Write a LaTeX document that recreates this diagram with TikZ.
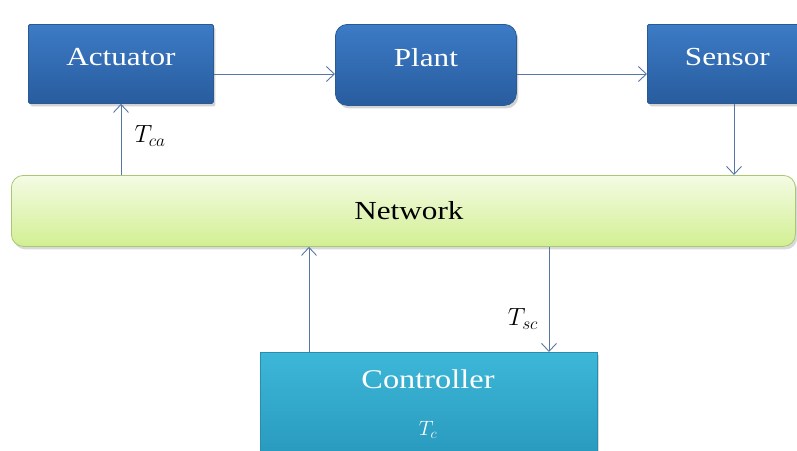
\documentclass[tikz,border=0pt]{standalone}
\usepackage{fontspec}
\setmainfont{Liberation Serif}
\newfontfamily\dfont[FakeStretch=1.2]{Liberation Serif}
\usetikzlibrary{arrows.meta,shadows}
\definecolor{boxtop}{HTML}{3C7BC6}
\definecolor{boxbot}{HTML}{285C9E}
\definecolor{boxline}{HTML}{2A5A92}
\definecolor{ctop}{HTML}{3DB7D8}
\definecolor{cbot}{HTML}{2798BC}
\definecolor{cline}{HTML}{2A8CAE}
\definecolor{ntop}{HTML}{F4FBE4}
\definecolor{nbot}{HTML}{D2EF92}
\definecolor{nline}{HTML}{A9C873}
\definecolor{arr}{HTML}{5677A6}
\tikzset{
  x=1pt,y=-1pt,
  bluebox/.style={draw=boxline,line width=0.8pt,top color=boxtop,bottom color=boxbot,
     text=white,font=\dfont\fontsize{26}{30}\selectfont,inner sep=0pt,anchor=north west,
     drop shadow={opacity=0.35,shadow xshift=2pt,shadow yshift=-3pt}},
  conn/.style={draw=arr,line width=0.9pt,-{Straight Barb[length=8pt,width=15pt,line width=0.9pt]}},
  mlabel/.style={font=\fontsize{27}{30}\selectfont,inner sep=0pt}
}
\begin{document}
\begin{tikzpicture}
\useasboundingbox (0,0) rectangle (797,450);
\clip (0,0) rectangle (797,450);
\node[bluebox,rounded corners=1.5pt,minimum width=185pt,minimum height=79pt] (act) at (28,24) {\raisebox{14pt}{Actuator}};
\node[bluebox,rounded corners=12pt,minimum width=181pt,minimum height=81pt] (plant) at (335,24) {\raisebox{14pt}{Plant}};
\node[bluebox,rounded corners=1.5pt,minimum width=162pt,minimum height=79pt] (sens) at (647,24) {\raisebox{14pt}{\hspace*{-2pt}Sensor}};
\node[draw=nline,line width=0.8pt,top color=ntop,bottom color=nbot,rounded corners=12pt,
  minimum width=784pt,minimum height=71pt,anchor=north west,inner sep=0pt,
  font=\dfont\fontsize{26}{30}\selectfont,
  drop shadow={opacity=0.3,shadow xshift=2pt,shadow yshift=-3pt}] (net) at (11,175) {\hspace*{11pt}Network};
\node[draw=cline,line width=0.8pt,top color=ctop,bottom color=cbot,minimum width=337pt,minimum height=110pt,
  anchor=north west,inner sep=0pt,
  drop shadow={opacity=0.3,shadow xshift=2pt,shadow yshift=-3pt}] (ctrl) at (260,352) {};
\node[text=white,font=\dfont\fontsize{27}{30}\selectfont,inner sep=0pt] (ctrltxt) at (428,379) {Controller};
\node[text=white,font=\fontsize{21}{24}\selectfont,inner sep=0pt] (tc) at (428,430) {$T_c$};
% connectors
\coordinate (a1) at (213,74);
\draw[conn] (act.east |- a1) -- (plant.west |- a1);
\draw[conn] (plant.east |- a1) -- (sens.west |- a1);
\coordinate (sx) at (734,0);
\draw[conn] (sens.south -| sx) -- (net.north -| sx);
\coordinate (ax) at (121,0);
\draw[conn] (net.north -| ax) -- (act.south -| ax);
\coordinate (cx1) at (309,0);
\coordinate (cx2) at (549,0);
\draw[conn] (ctrl.north -| cx1) -- (net.south -| cx1);
\draw[conn] (net.south -| cx2) -- (ctrl.north -| cx2);
\node[mlabel] (tca) at (150,136) {$T_{ca}$};
\node[mlabel] (tsc) at (523,319) {$T_{sc}$};
\end{tikzpicture}
\end{document}
